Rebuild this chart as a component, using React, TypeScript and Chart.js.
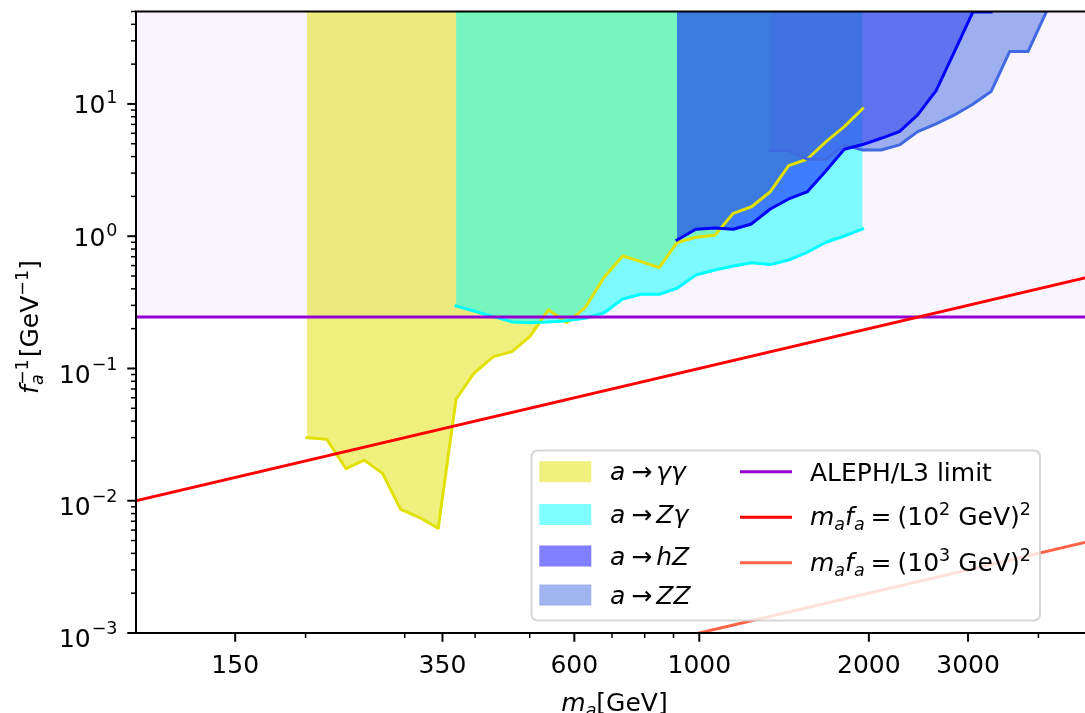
import React, { useEffect, useRef } from 'react';
import { Chart, registerables } from 'chart.js';

Chart.register(...registerables);

// ---------------- data ----------------
const gammaGammaMass = [201, 218, 236, 254, 274, 295, 318, 344, 370, 398, 431, 465, 500, 540, 582, 627, 678, 731, 788, 849, 913, 986, 1066, 1149, 1238, 1337, 1441, 1554, 1679, 1809, 1950];
const gammaGammaLimit = [0.030, 0.0292, 0.0175, 0.0203, 0.0161, 0.0086, 0.0075, 0.0062, 0.0585, 0.092, 0.123, 0.134, 0.174, 0.277, 0.222, 0.288, 0.489, 0.709, 0.642, 0.578, 0.894, 0.982, 1.017, 1.49, 1.67, 2.17, 3.42, 3.82, 5.19, 6.74, 9.21];

const zGammaMass = [370, 398, 431, 465, 500, 540, 582, 627, 678, 731, 788, 849, 913, 986, 1066, 1149, 1238, 1337, 1441, 1554, 1679, 1809, 1950];
const zGammaLimit = [0.297, 0.272, 0.2465, 0.225, 0.222, 0.225, 0.23, 0.24, 0.264, 0.335, 0.364, 0.364, 0.404, 0.509, 0.556, 0.596, 0.631, 0.61, 0.661, 0.756, 0.90, 1.004, 1.134];

const hZMass = [913, 986, 1066, 1149, 1238, 1337, 1441, 1554, 1679, 1809, 1950, 2103, 2266, 2442, 2633, 2838, 3059, 3296];
const hZLimit = [0.937, 1.128, 1.154, 1.128, 1.238, 1.607, 1.913, 2.161, 3.13, 4.54, 4.93, 5.50, 6.18, 8.26, 12.6, 24.9, 49.5, 49.5];

const zzMass = [1337, 1441, 1554, 1679, 1809, 1950, 2103, 2266, 2442, 2633, 2838, 3059, 3296, 3556, 3833, 4131];
const zzLimit = [4.44, 4.44, 3.82, 3.82, 4.9, 4.49, 4.49, 4.9, 6.18, 7.06, 8.26, 9.95, 12.4, 24.9, 24.9, 49.5];

const alephMass = [100, 5000];
const alephLimit = [0.245, 0.245];

const scale100Mass = [100, 5000];
const scale100Coupling = [0.01, 0.5];
const scale1000Mass = [100, 5000];
const scale1000Coupling = [0.0001, 0.005];

const xMajorTicks = [150, 350, 600, 1000, 2000, 3000];
const xMajorLabels = ['150', '350', '600', '1000', '2000', '3000'];
const xMinorTicks = [200, 300, 400, 500, 700, 800, 900, 4000];
const yMajorTicks = [1e-3, 1e-2, 1e-1, 1, 10];
const yMajorExponents = ['\u22123', '\u22122', '\u22121', '0', '1'];

const X_MIN = 100;
const X_MAX = 5000;
const Y_MIN = 1e-3;
const Y_MAX = 50;

// ---------------- styling ----------------
const FS = 25;
const FAMILY = '"DejaVu Sans", "Liberation Sans", sans-serif';
const COL_GG = 'rgba(225,225,0,0.5)';
const COL_GG_LINE = '#e1e100';
const COL_ZG = 'rgba(0,255,255,0.5)';
const COL_ZG_LINE = '#00ffff';
const COL_HZ = 'rgba(0,0,255,0.5)';
const COL_HZ_LINE = '#0000ff';
const COL_ZZ = 'rgba(65,105,225,0.5)';
const COL_ZZ_LINE = '#4169e1';
const COL_ALEPH = '#9400d3';
const COL_ALEPH_BG = 'rgba(148,0,211,0.045)';
const COL_RED = '#ff0000';
const COL_ORANGE = '#ff6347';

type Run = { t?: string; it?: boolean; sc?: number; dy?: number; noAdv?: boolean; gap?: number };

function runFont(r: Run) {
  return `${r.it ? 'italic ' : ''}${FS * (r.sc ?? 1)}px ${FAMILY}`;
}

function layoutRuns(ctx: CanvasRenderingContext2D, runs: Run[]) {
  let x = 0;
  let stack = 0;
  const placed: { r: Run; x: number }[] = [];
  for (const r of runs) {
    if (r.gap !== undefined && !r.t) {
      x += r.gap;
      continue;
    }
    ctx.font = runFont(r);
    const w = ctx.measureText(r.t || '').width;
    placed.push({ r, x });
    if (r.noAdv) {
      stack = w;
    } else {
      x += Math.max(w, stack);
      stack = 0;
    }
  }
  return { placed, width: x };
}

function drawRich(ctx: CanvasRenderingContext2D, runs: Run[], x: number, y: number, align: 'left' | 'center' | 'right' = 'left') {
  const { placed, width } = layoutRuns(ctx, runs);
  let x0 = x;
  if (align === 'center') x0 = x - width / 2;
  if (align === 'right') x0 = x - width;
  ctx.textAlign = 'left';
  ctx.textBaseline = 'alphabetic';
  for (const p of placed) {
    ctx.font = runFont(p.r);
    ctx.fillText(p.r.t || '', x0 + p.x, y + (p.r.dy ?? 0));
  }
}

const pts = (xs: number[], ys: number[]) => xs.map((x, i) => ({ x, y: ys[i] }));

const fillDs = (label: string, xs: number[], ys: number[], color: string, order: number) => ({
  label,
  data: pts(xs, ys),
  fill: 'end',
  backgroundColor: color,
  borderColor: 'rgba(0,0,0,0)',
  borderWidth: 0,
  pointRadius: 0,
  order,
});

const lineDs = (label: string, xs: number[], ys: number[], color: string, width: number, order: number) => ({
  label,
  data: pts(xs, ys),
  fill: false,
  borderColor: color,
  backgroundColor: color,
  borderWidth: width,
  pointRadius: 0,
  borderJoinStyle: 'round',
  borderCapStyle: 'square',
  order,
});

const arrowRuns = (target: Run[]): Run[] => [{ t: 'a', it: true }, { gap: 6 }, { t: '\u2192' }, { gap: 4 }, ...target];
const mafaRuns = (exp: string): Run[] => [
  { t: 'm', it: true },
  { t: 'a', it: true, sc: 0.7, dy: 5 },
  { t: 'f', it: true },
  { t: 'a', it: true, sc: 0.7, dy: 5 },
  { gap: 6 },
  { t: '=' },
  { gap: 6 },
  { t: '(10' },
  { t: exp, sc: 0.7, dy: -10 },
  { t: ' GeV)' },
  { t: '2', sc: 0.7, dy: -10 },
];

const overlayPlugin = {
  id: 'overlay',
  afterDraw(chart: any) {
    const { ctx, chartArea: a } = chart;
    const xs = chart.scales.x;
    const ys = chart.scales.y;
    ctx.save();
    ctx.fillStyle = '#000';
    ctx.strokeStyle = '#000';

    const seg = (x1: number, y1: number, x2: number, y2: number, w: number) => {
      ctx.lineWidth = w;
      ctx.beginPath();
      ctx.moveTo(x1, y1);
      ctx.lineTo(x2, y2);
      ctx.stroke();
    };

    // spines
    ctx.lineWidth = 2;
    ctx.strokeRect(a.left, a.top, a.right - a.left, a.bottom - a.top);

    // x ticks
    xMinorTicks.forEach((v) => {
      const px = xs.getPixelForValue(v);
      seg(px, a.bottom, px, a.bottom + 5, 1.5);
    });
    xMajorTicks.forEach((v, i) => {
      const px = xs.getPixelForValue(v);
      seg(px, a.bottom, px, a.bottom + 8.75, 2);
      ctx.font = `${FS}px ${FAMILY}`;
      ctx.textAlign = 'center';
      ctx.textBaseline = 'alphabetic';
      ctx.fillText(xMajorLabels[i], px, a.bottom + 40.3);
    });

    // y ticks
    for (let e = -3; e <= 1; e++) {
      for (let m = 2; m <= 9; m++) {
        const v = m * Math.pow(10, e);
        if (v > Y_MAX) continue;
        const py = ys.getPixelForValue(v);
        seg(a.left, py, a.left - 5, py, 1.5);
      }
    }
    yMajorTicks.forEach((v, i) => {
      const py = ys.getPixelForValue(v);
      seg(a.left, py, a.left - 8.75, py, 2);
      const neg = yMajorExponents[i].startsWith('\u2212');
      drawRich(
        ctx,
        [{ t: '10' }, { gap: 1 }, { t: yMajorExponents[i], sc: 0.7, dy: neg ? -13 : -10 }],
        a.left - 18.5,
        py + (neg ? 14.3 : 9.3),
        'right'
      );
    });

    // axis titles
    drawRich(ctx, [{ t: 'm', it: true }, { t: 'a', it: true, sc: 0.7, dy: 5 }, { t: '[GeV]' }], (a.left + a.right) / 2, 710.5, 'center');

    ctx.save();
    ctx.translate(38, 327);
    ctx.rotate(-Math.PI / 2);
    drawRich(
      ctx,
      [
        { t: 'f', it: true },
        { t: 'a', it: true, sc: 0.7, dy: 5, noAdv: true },
        { t: '\u22121', sc: 0.7, dy: -10 },
        { gap: 2 },
        { t: '[GeV' },
        { t: '\u22121', sc: 0.7, dy: -10 },
        { t: ']' },
      ],
      0,
      0,
      'center'
    );
    ctx.restore();

    // legend
    const lx = 531.5, ly = 450.5, lw = 508.5, lh = 170;
    ctx.beginPath();
    ctx.roundRect(lx, ly, lw, lh, 6);
    ctx.fillStyle = 'rgba(255,255,255,0.8)';
    ctx.fill();
    ctx.strokeStyle = 'rgba(204,204,204,0.8)';
    ctx.lineWidth = 2;
    ctx.stroke();

    const patchRows = [
      { y: 471.7, color: COL_GG, runs: arrowRuns([{ t: '\u03b3\u03b3', it: true }]) },
      { y: 514.5, color: COL_ZG, runs: arrowRuns([{ t: 'Z\u03b3', it: true }]) },
      { y: 556, color: COL_HZ, runs: arrowRuns([{ t: 'hZ', it: true }]) },
      { y: 595, color: COL_ZZ, runs: arrowRuns([{ t: 'ZZ', it: true }]) },
    ];
    patchRows.forEach((r) => {
      ctx.fillStyle = r.color;
      ctx.fillRect(539.3, r.y - 10.5, 52, 21);
      ctx.fillStyle = '#000';
      drawRich(ctx, r.runs, 610, r.y + 8.6, 'left');
    });

    const lineRows = [
      { y: 471.7, color: COL_ALEPH, runs: [{ t: 'ALEPH/L3 limit' }] as Run[], ty: 480.7 },
      { y: 517.3, color: COL_RED, runs: mafaRuns('2'), ty: 525 },
      { y: 562.7, color: COL_ORANGE, runs: mafaRuns('3'), ty: 570.5 },
    ];
    lineRows.forEach((r) => {
      ctx.strokeStyle = r.color;
      ctx.lineWidth = 3;
      ctx.beginPath();
      ctx.moveTo(740, r.y);
      ctx.lineTo(792, r.y);
      ctx.stroke();
      ctx.fillStyle = '#000';
      drawRich(ctx, r.runs, 810, r.ty, 'left');
    });

    ctx.restore();
  },
};

export default function App() {
  const canvasRef = useRef<HTMLCanvasElement | null>(null);

  useEffect(() => {
    const canvas = canvasRef.current;
    if (!canvas) return;
    const W = 1100;
    const H = 713;
    const chart = new Chart(canvas, {
      type: 'line',
      data: {
        datasets: [
          fillDs('bg', alephMass, alephLimit, COL_ALEPH_BG, 100),
          fillDs('a→γγ', gammaGammaMass, gammaGammaLimit, COL_GG, 90),
          fillDs('a→Zγ', zGammaMass, zGammaLimit, COL_ZG, 80),
          fillDs('a→hZ', hZMass, hZLimit, COL_HZ, 70),
          fillDs('a→ZZ', zzMass, zzLimit, COL_ZZ, 60),
          lineDs('γγ line', gammaGammaMass, gammaGammaLimit, COL_GG_LINE, 3, 50),
          lineDs('Zγ line', zGammaMass, zGammaLimit, COL_ZG_LINE, 3, 45),
          lineDs('ZZ line', zzMass, zzLimit, COL_ZZ_LINE, 3, 42),
          lineDs('hZ line', hZMass, hZLimit, COL_HZ_LINE, 3, 40),
          lineDs('ALEPH/L3 limit', alephMass, alephLimit, COL_ALEPH, 3, 30),
          lineDs('(10^2 GeV)^2', scale100Mass, scale100Coupling, COL_RED, 3, 20),
          lineDs('(10^3 GeV)^2', scale1000Mass, scale1000Coupling, COL_ORANGE, 3, 10),
        ] as any,
      },
      options: {
        animation: false,
        responsive: false,
        maintainAspectRatio: false,
        devicePixelRatio: 1,
        layout: { padding: { left: 136, top: 11.5, right: W - 1093, bottom: H - 633 } },
        scales: {
          x: { type: 'logarithmic', min: X_MIN, max: X_MAX, display: false },
          y: { type: 'logarithmic', min: Y_MIN, max: Y_MAX, display: false },
        },
        plugins: {
          legend: { display: false },
          tooltip: { enabled: false },
        },
        elements: { line: { tension: 0 }, point: { radius: 0 } },
      } as any,
      plugins: [overlayPlugin],
    });
    return () => chart.destroy();
  }, []);

  return (
    <div style={{ position: 'fixed', left: 0, top: 0, width: 1085, height: 713, overflow: 'hidden', background: '#fff' }}>
      <canvas ref={canvasRef} width={1100} height={713} style={{ display: 'block' }} />
    </div>
  );
}
